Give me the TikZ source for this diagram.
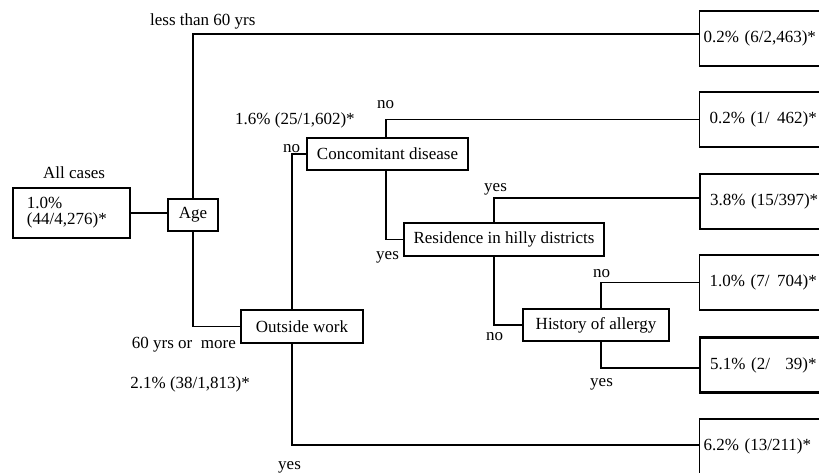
\documentclass[tikz,border=0pt]{standalone}
\usepackage{fontspec}
\setmainfont{Liberation Serif}
\usetikzlibrary{calc}
\begin{document}
\begin{tikzpicture}[x=1pt,y=-1pt,
  every node/.style={font=\fontsize{17}{20}\selectfont},
  box/.style={draw,line width=1.2pt,inner sep=0pt,align=center},
  rbox/.style={draw,line width=1.2pt,anchor=west,inner ysep=0pt,minimum height=55pt,text width=118pt,align=left},
  thickbox/.style={line width=2.2pt},
  lbl/.style={inner sep=0pt},
  conn/.style={line width=1.2pt}]
\useasboundingbox (0,0) rectangle (819,472);
\clip (0,0) rectangle (819,472);
\fill[white] (0,0) rectangle (819,472);

% decision boxes
\node[box,minimum width=117pt,minimum height=50pt,text width=89pt,align=left,
      font=\fontsize{17}{16}\selectfont] (allc) at (71.5,213) {1.0\%\\(44/4,276)*};
\node[box,minimum width=50pt,minimum height=32pt] (agebox) at (193,215) {Age};
\node[box,minimum width=161pt,minimum height=32pt] (conc) at (387.5,154) {Concomitant disease};
\node[box,minimum width=122pt,minimum height=33pt] (ow) at (302,326.5) {Outside work};
\node[box,minimum width=200pt,minimum height=33pt] (res) at (504,239.5) {Residence in hilly districts};
\node[box,minimum width=146pt,minimum height=32pt] (hist) at (596,325) {History of allergy};

% result boxes
\node[rbox,inner xsep=4pt] (r1) at (699,38.5) {0.2\% (6/2,463)*};
\node[rbox,inner xsep=10pt] (r2) at (699,119.5) {0.2\% (1/\hspace{0.45em}462)*};
\node[rbox,thickbox,inner xsep=10pt] (r3) at (699,201.5) {3.8\% (15/397)*};
\node[rbox,inner xsep=10pt] (r4) at (699,282.5) {1.0\% (7/\hspace{0.45em}704)*};
\node[rbox,thickbox,inner xsep=10pt] (r5) at (699,365) {5.1\% (2/\hspace{0.9em}39)*};
\node[rbox,inner xsep=4pt] (r6) at (699,446.5) {6.2\% (13/211)*};

% connectors
\draw[conn] (allc.east) -- (allc.east -| agebox.west);
\draw[conn] (agebox.north) |- ([yshift=4.5pt]r1.west);
\draw[conn] (agebox.south) |- (ow.west);
\draw[conn] ([xshift=-10pt]ow.north) |- (conc.west);
\draw[conn] ([xshift=-10pt]ow.south) |- ([yshift=1.5pt]r6.west);
\draw[conn] ([xshift=-1.5pt]conc.north) |- (r2.west);
\draw[conn] ([xshift=-1.5pt]conc.south) |- (res.west);
\draw[conn] ([xshift=-10pt]res.north) |- ([yshift=3.5pt]r3.west);
\draw[conn] ([xshift=-10pt]res.south) |- (hist.west);
\draw[conn] ([xshift=5pt]hist.north) |- (r4.west);
\draw[conn] ([xshift=5pt]hist.south) |- ([yshift=-3pt]r5.west);

% labels
\node[lbl,anchor=base west] (lall) at (43,178) {All cases};
\node[lbl,anchor=base west] (lless) at (150,25) {less than 60 yrs};
\node[lbl,anchor=base east] (lmore) at (236,348) {60 yrs or\ \ more};
\node[lbl,anchor=base east] (lpct2) at (250,388) {2.1\% (38/1,813)*};
\node[lbl,anchor=base west] (lpct1) at (235,124) {1.6\% (25/1,602)*};
\node[lbl,anchor=base west] (lno1) at (377,108) {no};
\node[lbl,anchor=base west] (lno2) at (283,152) {no};
\node[lbl,anchor=base west] (lyes1) at (484,191) {yes};
\node[lbl,anchor=base west] (lyes2) at (376,259) {yes};
\node[lbl,anchor=base west] (lno3) at (593,277) {no};
\node[lbl,anchor=base west] (lno4) at (486,340) {no};
\node[lbl,anchor=base west] (lyes3) at (590,386) {yes};
\node[lbl,anchor=base west] (lyes4) at (278,469) {yes};
\end{tikzpicture}
\end{document}
